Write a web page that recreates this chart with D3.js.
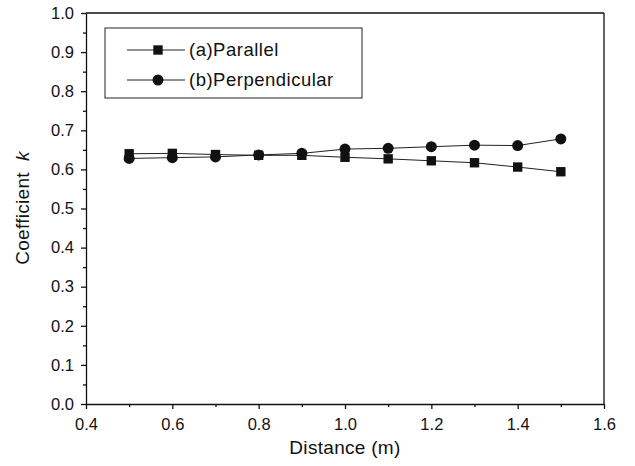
<!DOCTYPE html>
<html>
<head>
<meta charset="utf-8">
<script src="https://cdn.jsdelivr.net/npm/d3@7"></script>
<style>
  body { margin: 0; background: #fff; }
  text { font-family: "Liberation Sans", Arial, sans-serif; fill: #111; }
</style>
</head>
<body>
<svg id="chart" width="635" height="466"></svg>
<script>
var distance = [0.5, 0.6, 0.7, 0.8, 0.9, 1.0, 1.1, 1.2, 1.3, 1.4, 1.5];
var parallel = [0.640, 0.641, 0.638, 0.636, 0.636, 0.631, 0.627, 0.622, 0.617, 0.606, 0.594];
var perpendicular = [0.628, 0.630, 0.632, 0.637, 0.641, 0.652, 0.654, 0.658, 0.662, 0.661, 0.678];
var seriesNames = ["(a)Parallel", "(b)Perpendicular"];
var xTicks = [0.4, 0.6, 0.8, 1.0, 1.2, 1.4, 1.6];
var yTicks = [0.0, 0.1, 0.2, 0.3, 0.4, 0.5, 0.6, 0.7, 0.8, 0.9, 1.0];

var svg = d3.select("#chart");
var plotL = 86, plotR = 604, plotT = 13, plotB = 404;

var x = d3.scaleLinear().domain([0.4, 1.6]).range([plotL, plotR]);
var y = d3.scaleLinear().domain([0, 1]).range([plotB, plotT]);

// minor ticks first, then major on top
svg.append("g")
    .attr("transform", "translate(0," + plotB + ")")
    .call(d3.axisBottom(x).tickValues(d3.range(0.5, 1.6, 0.2)).tickSize(3).tickFormat(""))
    .call(function(g) { g.select(".domain").remove(); });
svg.append("g")
    .attr("transform", "translate(" + plotL + ",0)")
    .call(d3.axisLeft(y).tickValues(d3.range(0.05, 1, 0.1)).tickSize(3).tickFormat(""))
    .call(function(g) { g.select(".domain").remove(); });

svg.append("g")
    .attr("class", "xaxis")
    .attr("transform", "translate(0," + plotB + ")")
    .call(d3.axisBottom(x).tickValues(xTicks).tickSize(5).tickSizeOuter(0).tickPadding(9).tickFormat(d3.format(".1f")));
svg.append("g")
    .attr("class", "yaxis")
    .attr("transform", "translate(" + plotL + ",0)")
    .call(d3.axisLeft(y).tickValues(yTicks).tickSize(5).tickSizeOuter(0).tickPadding(7).tickFormat(d3.format(".1f")));

svg.selectAll(".xaxis, .yaxis").attr("font-size", 16.5).attr("font-family", null);
svg.selectAll(".tick text").attr("fill", "#111");
svg.selectAll(".domain, .tick line").attr("stroke", "#111").attr("stroke-width", 1.3);

// top and right frame
svg.append("line").attr("x1", plotL).attr("x2", plotR).attr("y1", plotT).attr("y2", plotT)
    .attr("stroke", "#111").attr("stroke-width", 1.3);
svg.append("line").attr("x1", plotR).attr("x2", plotR).attr("y1", plotT).attr("y2", plotB)
    .attr("stroke", "#111").attr("stroke-width", 1.3);

var line = d3.line().x(function(d) { return x(d[0]); }).y(function(d) { return y(d[1]); });
var sq = d3.symbol().type(d3.symbolSquare).size(88);
var ci = d3.symbol().type(d3.symbolCircle).size(95);

[parallel, perpendicular].forEach(function(vals, i) {
    var pts = distance.map(function(d, j) { return [d, vals[j]]; });
    svg.append("path").datum(pts).attr("d", line)
        .attr("fill", "none").attr("stroke", "#222").attr("stroke-width", 1);
    svg.selectAll(".m" + i).data(pts).enter().append("path")
        .attr("class", "m" + i)
        .attr("d", i == 0 ? sq : ci)
        .attr("transform", function(d) { return "translate(" + x(d[0]) + "," + y(d[1]) + ")"; })
        .attr("fill", "#111");
});

// legend
var lg = svg.append("g");
lg.append("rect").attr("x", 105).attr("y", 28).attr("width", 257).attr("height", 70)
    .attr("fill", "none").attr("stroke", "#222").attr("stroke-width", 1);
seriesNames.forEach(function(name, i) {
    var ly = 50 + i * 30;
    lg.append("line").attr("x1", 127).attr("x2", 185).attr("y1", ly).attr("y2", ly)
        .attr("stroke", "#222").attr("stroke-width", 1);
    lg.append("path").attr("d", i == 0 ? sq : ci)
        .attr("transform", "translate(158," + ly + ")").attr("fill", "#111");
    lg.append("text").attr("x", 189).attr("y", ly + 6).style("font-size", "18.5px")
        .style("letter-spacing", "0.5px").text(name);
});

// axis titles
svg.append("text").attr("x", (plotL + plotR) / 2).attr("y", 454).attr("text-anchor", "middle")
    .style("font-size", "19px").style("letter-spacing", "0.3px").text("Distance (m)");
var yt = svg.append("text").attr("transform", "translate(29,208) rotate(-90)")
    .attr("text-anchor", "middle").style("font-size", "19px").style("letter-spacing", "0.3px");
yt.append("tspan").text("Coefficient\u00a0\u00a0");
yt.append("tspan").style("font-style", "italic").text("k");
</script>
</body>
</html>
